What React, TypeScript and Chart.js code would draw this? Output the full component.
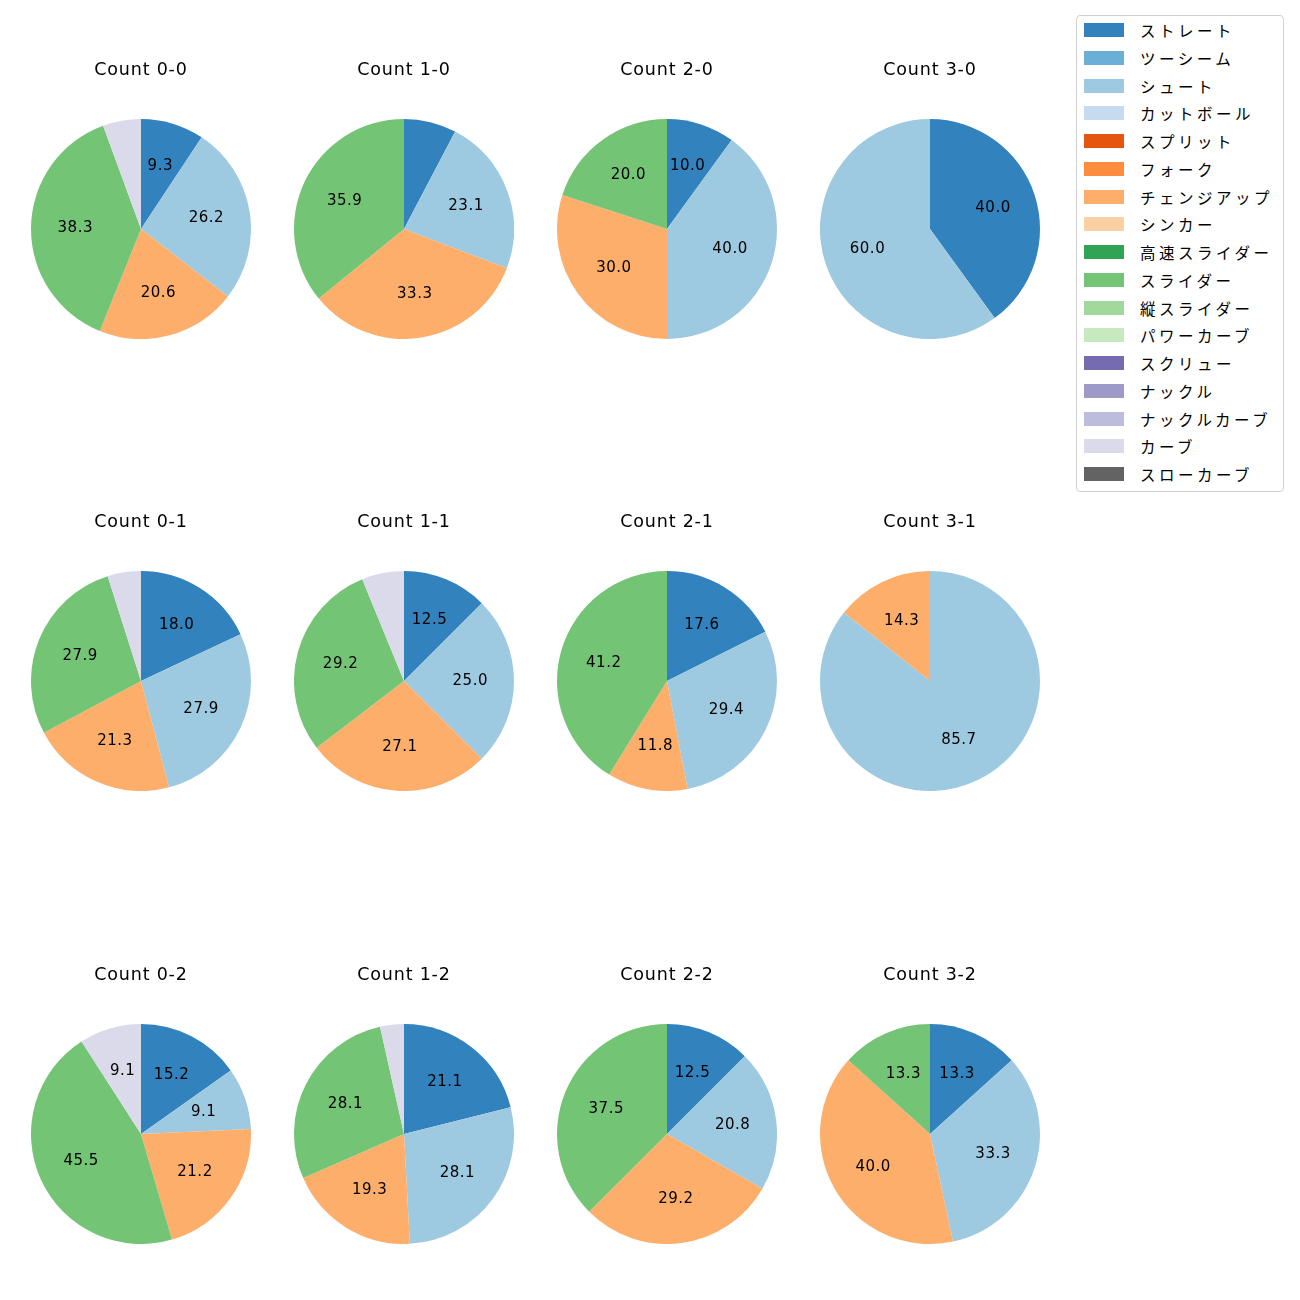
import React, { useEffect, useRef } from "react";
import { Chart, registerables } from "chart.js";

Chart.register(...registerables);

const pitchTypes = [
  "ストレート", "ツーシーム", "シュート", "カットボール", "スプリット", "フォーク",
  "チェンジアップ", "シンカー", "高速スライダー", "スライダー", "縦スライダー",
  "パワーカーブ", "スクリュー", "ナックル", "ナックルカーブ", "カーブ", "スローカーブ",
];
const pitchColors = [
  "#3182bd", "#6baed6", "#9ecae1", "#c6dbef", "#e6550d", "#fd8d3c",
  "#fdae6b", "#fdd0a2", "#31a354", "#74c476", "#a1d99b",
  "#c7e9c0", "#756bb1", "#9e9ac8", "#bcbddc", "#dadaeb", "#636363",
];

const countLabels = ["0-0", "1-0", "2-0", "3-0", "0-1", "1-1", "2-1", "3-1", "0-2", "1-2", "2-2", "3-2"];

// shares (%) per count, in countLabels order
const straightShare = [9.3, 7.7, 10.0, 40.0, 18.0, 12.5, 17.6, 0, 15.2, 21.1, 12.5, 13.3];
const shootShare = [26.2, 23.1, 40.0, 60.0, 27.9, 25.0, 29.4, 85.7, 9.1, 28.1, 20.8, 33.3];
const changeupShare = [20.6, 33.3, 30.0, 0, 21.3, 27.1, 11.8, 14.3, 21.2, 19.3, 29.2, 40.0];
const sliderShare = [38.3, 35.9, 20.0, 0, 27.9, 29.2, 41.2, 0, 45.5, 28.1, 37.5, 13.3];
const curveShare = [5.6, 0, 0, 0, 4.9, 6.2, 0, 0, 9.1, 3.5, 0, 0];

const LATIN_FONT = "'DejaVu Sans', 'Noto Sans CJK JP', sans-serif";
const JP_FONT = "'Noto Sans CJK JP', 'DejaVu Sans', sans-serif";

function valuesFor(i: number): number[] {
  const v = new Array(pitchTypes.length).fill(0);
  v[0] = straightShare[i];
  v[2] = shootShare[i];
  v[6] = changeupShare[i];
  v[9] = sliderShare[i];
  v[15] = curveShare[i];
  return v;
}

const spacingPlugin = {
  id: "titleSpacing",
  beforeDraw(chart: any) {
    (chart.ctx as any).letterSpacing = "0.8px";
  },
  beforeDatasetsDraw(chart: any) {
    (chart.ctx as any).letterSpacing = "0px";
  },
};

const labelPlugin = {
  id: "sliceLabels",
  afterDatasetsDraw(chart: any) {
    const ctx = chart.ctx;
    const meta = chart.getDatasetMeta(0);
    const data = chart.data.datasets[0].data as number[];
    ctx.save();
    ctx.fillStyle = "#000";
    ctx.font = `15px ${LATIN_FONT}`;
    (ctx as any).letterSpacing = "0.5px";
    ctx.textAlign = "center";
    ctx.textBaseline = "middle";
    meta.data.forEach((arc: any, idx: number) => {
      const val = data[idx];
      if (!val || val < 8) return;
      const mid = (arc.startAngle + arc.endAngle) / 2;
      const r = arc.outerRadius * 0.6;
      const x = arc.x + Math.cos(mid) * r;
      const y = arc.y + Math.sin(mid) * r;
      ctx.fillText(val.toFixed(1), x + 0.25, y);
    });
    ctx.restore();
  },
};

function PieCell({ index, left, top }: { index: number; left: number; top: number }) {
  const ref = useRef<HTMLCanvasElement>(null);
  useEffect(() => {
    if (!ref.current) return;
    const chart = new Chart(ref.current, {
      type: "pie",
      data: {
        labels: pitchTypes,
        datasets: [
          {
            data: valuesFor(index),
            backgroundColor: pitchColors,
            borderWidth: 0,
          },
        ],
      },
      options: {
        responsive: false,
        animation: false,
        layout: { padding: 0 },
        plugins: {
          legend: { display: false },
          tooltip: { enabled: false },
          title: {
            display: true,
            text: `Count ${countLabels[index]}`,
            color: "#000",
            font: { family: LATIN_FONT, size: 17.5, weight: "normal", lineHeight: 1.2 },
            padding: { top: 1, bottom: 38 },
          },
        },
      },
      plugins: [spacingPlugin, labelPlugin],
    } as any);
    return () => chart.destroy();
  }, [index]);
  return (
    <canvas
      ref={ref}
      width={220}
      height={280}
      style={{ position: "absolute", left, top, width: 220, height: 280 }}
    />
  );
}

const colCenters = [141, 404, 667, 930];
const rowPieTops = [119, 571, 1024];

export default function App() {
  return (
    <div style={{ position: "relative", width: 1300, height: 1300, background: "#fff" }}>
      {countLabels.map((_, i) => {
        const col = i % 4;
        const row = Math.floor(i / 4);
        return <PieCell key={i} index={i} left={colCenters[col] - 110 - 8} top={rowPieTops[row] - 60 - 8} />;
      })}
      <div
        style={{
          position: "absolute",
          left: 1076 - 8,
          top: 15 - 8,
          width: 208,
          height: 477,
          border: "1px solid #d0d0d0",
          borderRadius: 4,
          boxSizing: "border-box",
          fontFamily: JP_FONT,
          fontSize: 15.5,
          color: "#000",
          background: "#fff",
        }}
      >
        {pitchTypes.map((name, i) => (
          <div
            key={name}
            style={{ position: "absolute", left: 0, top: i * 27.75, height: 28, display: "flex", alignItems: "center" }}
          >
            <div style={{ width: 40, height: 14, background: pitchColors[i], marginLeft: 7 }} />
            <span style={{ marginLeft: 16, whiteSpace: "nowrap", letterSpacing: 3.5 }}>{name}</span>
          </div>
        ))}
      </div>
    </div>
  );
}
